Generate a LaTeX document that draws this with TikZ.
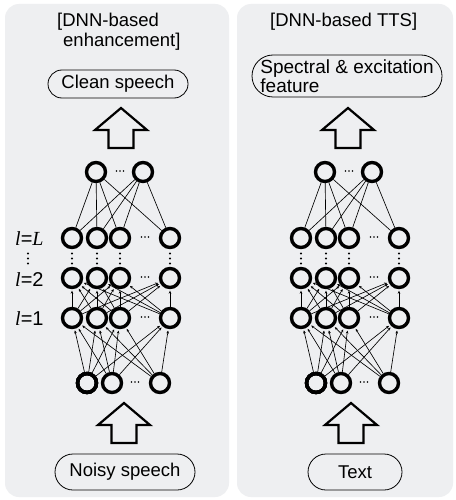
\documentclass[tikz,border=0pt]{standalone}
\usepackage{fontspec}
\setmainfont{Liberation Sans}
\newfontfamily\serifit{Liberation Serif}
\usetikzlibrary{arrows.meta,shapes.misc}
\definecolor{panel}{RGB}{238,239,241}
\newcommand\bigup[2]{%
  \draw[bigarrow] (#1,#2) -- (#1+26,#2+22) -- (#1+12.5,#2+22) -- (#1+12.5,#2+40)
    -- (#1-12.5,#2+40) -- (#1-12.5,#2+22) -- (#1-26,#2+22) -- cycle;}
\newcommand\hdots[2]{\foreach \d in {-3.5,0,3.5} \fill (#1+\d,#2) circle (0.9);}
\newcommand\vdotsat[2]{\foreach \d in {-5,0,5} \fill (#1,#2+\d) circle (1.1);}
\newcommand\mynet[2]{%
\begin{scope}[xshift=#2 pt]
  \node[neuron] (#1t1) at (96,172) {};
  \node[neuron] (#1t2) at (143,172) {};
  \hdots{120}{171}
  \foreach \ly/\yy in {L/238,B/278,A/318}{
    \foreach \i/\xx in {1/72,2/97,3/120,4/170}
      \node[neuron] (#1\ly\i) at (\xx,\yy) {};
    \hdots{145}{\yy-1}
  }
  \foreach \xx in {72,97,120,170} \vdotsat{\xx}{258.5}
  \node[neuron] (#1i1) at (87,383) {};
  \node[neuron] (#1i2) at (112,383) {};
  \node[neuron] (#1i3) at (160,383) {};
  \hdots{135}{382}
  \foreach \a in {1,2} \foreach \b in {1,2,3,4} \draw[conn] (#1L\b) -- (#1t\a);
  \foreach \a in {1,2,3,4} \foreach \b in {1,2,3,4} \draw[fwd] (#1A\b) -- (#1B\a);
  \foreach \a in {1,2,3,4} \foreach \b in {1,2,3} \draw[fwd] (#1i\b) -- (#1A\a);
\end{scope}}
\begin{document}
\begin{tikzpicture}[x=1pt,y=-1pt,
  neuron/.style={circle,draw,line width=3.4pt,minimum size=19pt,inner sep=0pt},
  conn/.style={line width=0.65pt},
  fwd/.style={conn,-{Stealth[length=3pt,width=2.6pt]},shorten >=1.5pt},
  txt/.style={font=\fontsize{18.5}{19}\selectfont,inner sep=0pt},
  pill/.style={draw,line width=0.8pt,rounded rectangle,inner sep=0pt,font=\fontsize{18.5}{19}\selectfont},
  bigarrow/.style={draw,line width=2.2pt,fill=panel,line join=miter},
  lab/.style={font=\fontsize{20}{20}\selectfont,anchor=base west,inner sep=0pt},
]
\useasboundingbox (0,0) rectangle (455,500);
\fill[white] (0,0) rectangle (455,500);
\fill[panel,rounded corners=14pt] (5,4) rectangle (229,497);
\fill[panel,rounded corners=14pt] (237,4) rectangle (453,497);
% titles
\node[txt,anchor=base west] (t1a) at (57,27) {[DNN-based};
\node[txt,anchor=base west] (t1b) at (63,47) {enhancement]};
\node[txt,anchor=base west] (t2) at (270,27) {[DNN-based TTS]};
% boxes
\node[pill,minimum width=140pt,minimum height=28pt] (clean) at (118,84) {Clean speech};
\node[pill,minimum width=140pt,minimum height=36pt] (noisy) at (125,472) {Noisy speech};
\node[pill,minimum width=190pt,minimum height=42pt,align=left,font=\fontsize{19}{18.5}\selectfont] (spec) at (347,76) {Spectral \& excitation\\feature};
\node[pill,minimum width=94pt,minimum height=36pt] (text) at (355,472) {Text};
% big arrows
\bigup{121}{108}
\bigup{124}{403}
\bigup{348}{108}
\bigup{351}{403}
% networks
\mynet{a}{0}
\mynet{b}{229}
% layer labels
\node[lab] (lL) at (15,245) {{\serifit\itshape l}={\serifit\itshape L}};
\node[lab] (l2) at (15,286) {{\serifit\itshape l}=2};
\node[lab] (l1) at (15,325) {{\serifit\itshape l}=1};
\vdotsat{28}{258.5}
\end{tikzpicture}
\end{document}
